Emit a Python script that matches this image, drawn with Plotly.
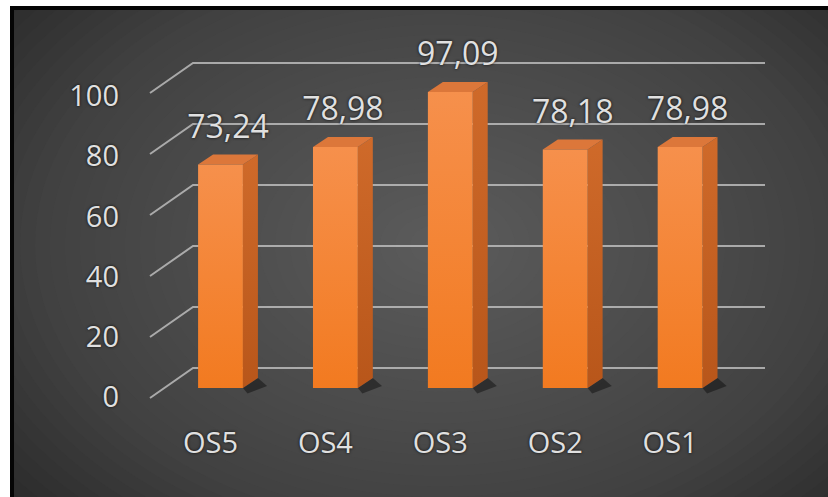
import plotly.graph_objects as go

# ---- data ----
categories = ["OS5", "OS4", "OS3", "OS2", "OS1"]
values = [73.24, 78.98, 97.09, 78.18, 78.98]
y_ticks = [0, 20, 40, 60, 80, 100]

# ---- figure geometry (pixels) ----
W, H = 828, 497
ML, MR, MT, MB = 120, 0, 0, 80
PW, PH = W - ML - MR, H - MT - MB

# front plane of the bars: category spacing and value scale
X_STEP = 114.9          # px per category
X_FIRST = 220.5         # px centre of first bar
Y_ZERO = 388.0          # px of value 0 on the bar front
Y_UNIT = 3.05           # px per value unit
# tick-label scale (drawn slightly lower, on the side wall front edge)
LAB_ZERO, LAB_UNIT = 397.0, 3.01

x_range = [(ML - X_FIRST) / X_STEP, (W - MR - X_FIRST) / X_STEP]
y_range = [(Y_ZERO - (H - MB)) / Y_UNIT, (Y_ZERO - MT) / Y_UNIT]
y2_range = [(LAB_ZERO - (H - MB)) / LAB_UNIT, (LAB_ZERO - MT) / LAB_UNIT]

# bar box proportions (data units)
half_w = 0.195
depth_x = 15 / X_STEP
depth_y = 10 / Y_UNIT
label_gap = 9 / Y_UNIT

# back-wall offsets for the grid
wall_back_y = 20 / Y_UNIT
wall_front_y = -10 / Y_UNIT
wall_left_front = (150 - X_FIRST) / X_STEP
wall_left_back = (193 - X_FIRST) / X_STEP
wall_right = (765 - X_FIRST) / X_STEP


def px(x):
    return (x - ML) / PW


def py(y):
    return (H - MB - y) / PH


shapes = []
# dark chart area
shapes.append(dict(type="rect", xref="paper", yref="paper", layer="below",
                   x0=px(10), x1=px(W + 5), y0=py(6), y1=py(H + 5),
                   fillcolor="#252525", line_width=0))
# soft radial glow in the middle of the chart area
N = 40
cx, cy = 440, 245
RX, RY = 600, 420
for k in range(N):
    f = 1 - k / N
    shapes.append(dict(type="circle", xref="paper", yref="paper", layer="below",
                       x0=px(cx - RX * f), x1=px(cx + RX * f),
                       y0=py(cy - RY * f), y1=py(cy + RY * f),
                       fillcolor="rgb(115,119,123)", opacity=0.03, line_width=0))
# white margin and thin black frame on the left and top
shapes.append(dict(type="rect", xref="paper", yref="paper", layer="below",
                   x0=px(-5), x1=px(10), y0=py(-5), y1=py(H + 5),
                   fillcolor="white", line_width=0))
shapes.append(dict(type="rect", xref="paper", yref="paper", layer="below",
                   x0=px(-5), x1=px(W + 5), y0=py(-5), y1=py(6),
                   fillcolor="white", line_width=0))
shapes.append(dict(type="rect", xref="paper", yref="paper", layer="below",
                   x0=px(10), x1=px(14), y0=py(6), y1=py(H + 5),
                   fillcolor="#050505", line_width=0))
shapes.append(dict(type="rect", xref="paper", yref="paper", layer="below",
                   x0=px(10), x1=px(W + 5), y0=py(6), y1=py(10),
                   fillcolor="#050505", line_width=0))

fig = go.Figure()

# grid: side-wall diagonals + back-wall horizontals
gx, gy = [], []
for t in y_ticks:
    gx += [wall_left_front, wall_left_back, wall_right, None]
    gy += [t + wall_front_y, t + wall_back_y, t + wall_back_y, None]
fig.add_trace(go.Scatter(x=gx, y=gy, mode="lines", hoverinfo="skip",
                         line=dict(color="rgba(195,195,195,0.8)", width=2),
                         showlegend=False))

positions = list(range(len(categories)))

for xi, v in zip(positions, values):
    xl, xr = xi - half_w, xi + half_w
    # base shadow
    fig.add_trace(go.Scatter(
        x=[xr, xr + depth_x, xr + depth_x + 0.08, xr + 0.04, xr],
        y=[0, depth_y, depth_y * 0.2, -1.8, 0],
        fill="toself", mode="none", fillcolor="rgba(0,0,0,0.4)",
        hoverinfo="skip", showlegend=False))
    # side face
    fig.add_trace(go.Scatter(
        x=[xr, xr + depth_x, xr + depth_x, xr, xr],
        y=[0, depth_y, v + depth_y, v, 0],
        fill="toself", mode="none",
        fillgradient=dict(type="vertical",
                          colorscale=[[0, "#b8561a"], [1, "#cf6a2a"]]),
        hoverinfo="skip", showlegend=False))
    # top face
    fig.add_trace(go.Scatter(
        x=[xl, xr, xr + depth_x, xl + depth_x, xl],
        y=[v, v, v + depth_y, v + depth_y, v],
        fill="toself", mode="none", fillcolor="#dc773a",
        hoverinfo="skip", showlegend=False))
    # front face
    fig.add_trace(go.Scatter(
        x=[xl, xr, xr, xl, xl],
        y=[0, 0, v, v, 0],
        fill="toself", mode="none",
        fillgradient=dict(type="vertical",
                          colorscale=[[0, "#f27a20"], [1, "#f6904c"]]),
        hoverinfo="skip", showlegend=False))

# value labels above each bar
fig.add_trace(go.Scatter(
    x=[p + depth_x / 2 for p in positions],
    y=[v + depth_y + label_gap for v in values],
    customdata=values,
    mode="text", texttemplate="%{customdata:.2f}", textposition="top center",
    textfont=dict(size=32, color="#e0e0e0", family="Open Sans",
                  shadow="0px 0px 3px rgba(0,0,0,0.9)"),
    cliponaxis=False, hoverinfo="skip", showlegend=False))

# carrier for the value-axis labels
fig.add_trace(go.Scatter(x=[positions[0]], y=[0], xaxis="x", yaxis="y2",
                         mode="markers", marker=dict(opacity=0),
                         hoverinfo="skip", showlegend=False))

label_shift = 10 / X_STEP
fig.update_layout(
    width=W, height=H,
    margin=dict(l=ML, r=MR, t=MT, b=MB),
    paper_bgcolor="white",
    plot_bgcolor="rgba(0,0,0,0)",
    separators=", ",
    font=dict(family="Open Sans", size=29, color="#e0e0e0",
              shadow="0px 0px 3px rgba(0,0,0,0.9)"),
    shapes=shapes,
    xaxis=dict(range=x_range, showgrid=False, zeroline=False, showline=False,
               tickvals=[p - label_shift for p in positions], ticktext=categories,
               ticks="", ticklabelstandoff=6,
               tickfont=dict(size=29, color="#e0e0e0"), fixedrange=True),
    yaxis=dict(range=y_range, showgrid=False, zeroline=False, showline=False,
               showticklabels=False, fixedrange=True),
    yaxis2=dict(range=y2_range, overlaying="y", side="left", anchor="x",
                showgrid=False, zeroline=False, showline=False,
                tickvals=y_ticks, ticks="", tickfont=dict(size=29, color="#e0e0e0"),
                fixedrange=True),
)

fig.write_html("out.html")
